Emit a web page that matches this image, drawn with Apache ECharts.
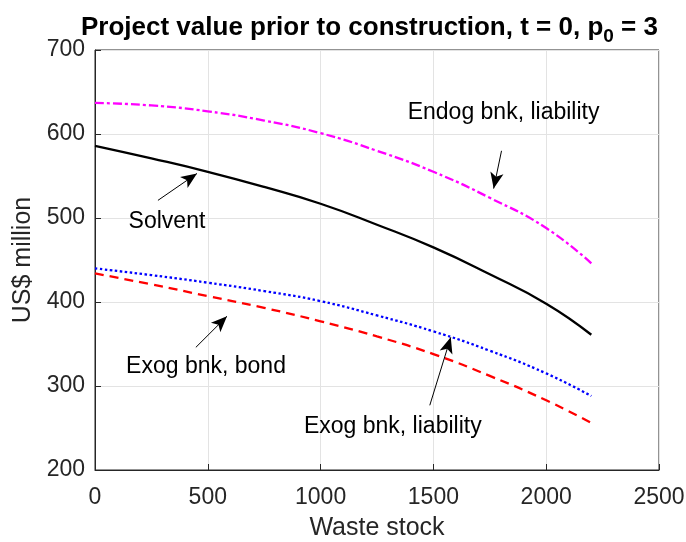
<!DOCTYPE html>
<html><head><meta charset="utf-8">
<script src="https://cdn.jsdelivr.net/npm/echarts@6/dist/echarts.min.js"></script>
<style>html,body{margin:0;padding:0;background:#fff;overflow:hidden;width:686px;height:542px}#c{width:686px;height:542px}</style>
</head><body><div id="c"></div>
<script>
const wasteStock = [0, 250, 500, 750, 1000, 1250, 1500, 1750, 2000, 2200];
const endogLiability = [637, 634, 627, 616, 601, 580, 555, 524, 488, 446];
const solvent = [586, 571, 555, 537, 517, 492, 465, 433, 398, 361];
const exogLiability = [440, 432, 423, 413, 401, 384, 365, 342, 315, 288];
const exogBond = [434, 421, 407, 393, 377, 359, 338, 312, 283, 256];
const xTicks = [0, 500, 1000, 1500, 2000, 2500];
const yTicks = [200, 300, 400, 500, 600, 700];
// annotations: [label, textX, textY, tailX, tailY, tipX, tipY] in data units
const notes = [
  ['Endog bnk, liability', 1811, 625, 1802, 580, 1767, 535],
  ['Solvent', 319, 496, 279, 521, 452, 553],
  ['Exog bnk, bond', 492, 323, 447, 346, 585, 383],
  ['Exog bnk, liability', 1320, 252, 1484, 277, 1577, 358]
];

const font = 'Liberation Sans, Arial, sans-serif';
const chart = echarts.init(document.getElementById('c'), null, {width: 686, height: 542});
const mk = (vals) => wasteStock.map((x, i) => [x, vals[i]]);
const series = [
  {name: 'Endog', data: mk(endogLiability), color: '#ff00ff', type: [9, 3, 3, 3]},
  {name: 'Solvent', data: mk(solvent), color: '#000000', type: 'solid'},
  {name: 'ExogL', data: mk(exogLiability), color: '#0000ff', type: [2.5, 2.5]},
  {name: 'ExogB', data: mk(exogBond), color: '#ff0000', type: [9, 6]}
].map(s => ({
  type: 'line', name: s.name, data: s.data, smooth: true, showSymbol: false,
  lineStyle: {color: s.color, width: 2.3, type: s.type}, z: 3, silent: true
}));
series.push({
  type: 'line', data: [], silent: true, showSymbol: false,
  markLine: {
    silent: true, symbol: ['none', 'arrow'], symbolSize: [10, 16],
    lineStyle: {color: '#000', width: 1, type: 'solid'},
    itemStyle: {color: '#000'},
    label: {show: false},
    data: notes.map(n => [{coord: [n[3], n[4]]}, {coord: [n[5], n[6]]}])
  },
  markPoint: {
    silent: true, symbol: 'circle', symbolSize: 1, itemStyle: {color: 'rgba(0,0,0,0)'},
    label: {show: true, position: 'inside', color: '#000', fontSize: 23, fontFamily: font,
      formatter: p => p.name},
    data: notes.map(n => ({name: n[0], coord: [n[1], n[2]]}))
  }
});

chart.setOption({
  animation: false,
  backgroundColor: '#fff',
  title: {
    text: '{b|Project value prior to construction, t = 0, p}{s|0}{b| = 3}',
    left: 76, top: 5,
    textStyle: {rich: {
      b: {fontSize: 26, fontWeight: 'bold', fontFamily: font, color: '#000'},
      s: {fontSize: 19, fontWeight: 'bold', fontFamily: font, color: '#000', padding: [17, 0, 0, 0]}
    }}
  },
  grid: {left: 95, right: 27, top: 50, bottom: 72, show: true, borderColor: '#262626', borderWidth: 1,
    containLabel: false, outerBoundsMode: 'none'},
  xAxis: {
    type: 'value', min: 0, max: 2500, interval: 500,
    name: 'Waste stock', nameLocation: 'middle', nameGap: 46,
    nameTextStyle: {fontSize: 25, fontFamily: font, color: '#262626'},
    axisLine: {show: true, onZero: false, lineStyle: {color: '#262626'}},
    axisTick: {show: true, inside: true, length: 6, lineStyle: {color: '#262626'}},
    axisLabel: {fontSize: 23, fontFamily: font, color: '#262626', margin: 16,
      formatter: v => xTicks.includes(v) ? String(v) : ''},
    splitLine: {show: true, lineStyle: {color: '#e3e3e3', width: 1}}
  },
  yAxis: {
    type: 'value', min: 200, max: 700, interval: 100,
    name: 'US$ million', nameLocation: 'middle', nameGap: 53, nameRotate: 90,
    nameTextStyle: {fontSize: 25, fontFamily: font, color: '#262626'},
    axisLine: {show: true, onZero: false, lineStyle: {color: '#262626'}},
    axisTick: {show: true, inside: true, length: 6, lineStyle: {color: '#262626'}},
    axisLabel: {fontSize: 23, fontFamily: font, color: '#262626', margin: 10,
      formatter: v => yTicks.includes(v) ? String(v) : ''},
    splitLine: {show: true, lineStyle: {color: '#e3e3e3', width: 1}}
  },
  series: series
});
</script></body></html>
